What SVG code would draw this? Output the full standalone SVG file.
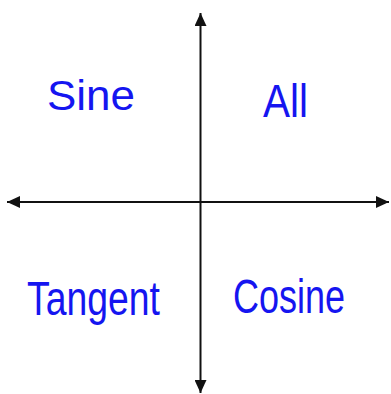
<svg xmlns="http://www.w3.org/2000/svg" width="391" height="394" viewBox="0 0 391 394">
<defs>
<style>
.axis{stroke:#111;stroke-width:2;fill:none}
.lbl{font-family:"Liberation Sans","DejaVu Sans",sans-serif;fill:#1515f0}
</style>
<marker id="ah" viewBox="0 0 13 12" refX="13" refY="6" markerWidth="13" markerHeight="12" markerUnits="userSpaceOnUse" orient="auto">
<path d="M0,0 L13,6 L0,12 Z" fill="#111"/>
</marker>
</defs>
<rect width="391" height="394" fill="#fff"/>
<g id="connectors">
<line class="axis" x1="200.5" y1="202" x2="200.5" y2="13" marker-end="url(#ah)"/>
<line class="axis" x1="200.5" y1="202" x2="200.5" y2="393" marker-end="url(#ah)"/>
<line class="axis" x1="200.5" y1="202" x2="7" y2="202" marker-end="url(#ah)"/>
<line class="axis" x1="200.5" y1="202" x2="389" y2="202" marker-end="url(#ah)"/>
</g>
<g id="sine"><text class="lbl" x="47" y="110" font-size="42" textLength="88" lengthAdjust="spacingAndGlyphs">Sine</text></g>
<g id="all"><text class="lbl" x="263" y="117" font-size="46" textLength="45" lengthAdjust="spacingAndGlyphs">All</text></g>
<g id="tangent"><text class="lbl" x="27" y="315" font-size="48" textLength="133" lengthAdjust="spacingAndGlyphs">Tangent</text></g>
<g id="cosine"><text class="lbl" x="233" y="313" font-size="48" textLength="112" lengthAdjust="spacingAndGlyphs">Cosine</text></g>
</svg>
